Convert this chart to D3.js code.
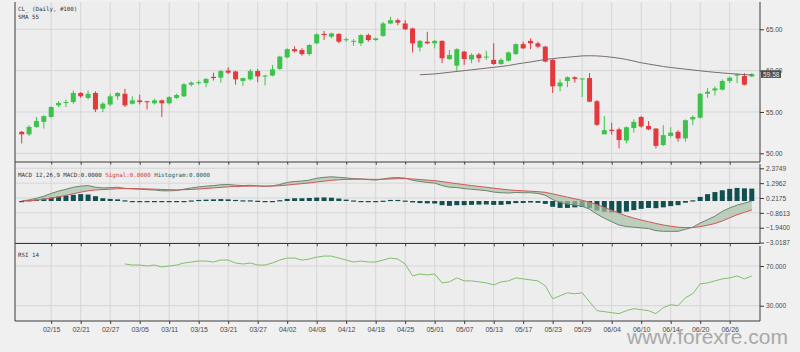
<!DOCTYPE html>
<html>
<head>
<meta charset="utf-8">
<script src="https://cdn.jsdelivr.net/npm/d3@7"></script>
<style>
  body { margin: 0; background: #f0f0f0; }
  svg { display: block; font-family: "Liberation Sans", Arial, sans-serif; }
</style>
</head>
<body>
<svg id="chart"></svg>
<script>
const dates = ["02/11","02/12","02/13","02/14","02/15","02/18","02/19","02/20","02/21","02/22",
  "02/25","02/26","02/27","02/28","03/01","03/04","03/05","03/06","03/07","03/08",
  "03/11","03/12","03/13","03/14","03/15","03/18","03/19","03/20","03/21","03/22",
  "03/25","03/26","03/27","03/28","03/29","04/01","04/02","04/03","04/04","04/05",
  "04/08","04/09","04/10","04/11","04/12","04/15","04/16","04/17","04/18","04/22",
  "04/23","04/24","04/25","04/26","04/29","04/30","05/01","05/02","05/03","05/06",
  "05/07","05/08","05/09","05/10","05/13","05/14","05/15","05/16","05/17","05/20",
  "05/21","05/22","05/23","05/24","05/27","05/28","05/29","05/30","05/31","06/03",
  "06/04","06/05","06/06","06/07","06/10","06/11","06/12","06/13","06/14","06/17",
  "06/18","06/19","06/20","06/21","06/24","06/25","06/26","06/27","06/28","07/01"];

const opens = [52.6,52.3,53.2,53.8,54.4,55.8,56.1,56.2,57.3,56.7,
  57.3,55.4,55.9,56.9,57.2,56.0,56.4,56.3,56.05,56.4,
  56.05,56.7,56.9,58.3,58.5,58.5,59.25,59.15,60.0,59.9,
  58.75,58.95,59.95,59.3,59.4,60.2,61.6,62.6,62.5,62.0,
  63.3,64.45,64.1,64.45,63.7,63.5,63.3,64.3,63.7,64.2,
  65.7,66.1,65.7,65.1,62.8,63.5,63.3,63.6,61.4,60.6,
  62.3,61.35,61.95,61.6,61.3,60.8,61.2,62.0,63.2,63.6,
  63.3,62.9,61.3,58.1,58.75,59.2,58.95,59.1,56.3,52.3,
  52.85,52.9,51.55,53.05,54.4,53.3,53.0,51.0,52.1,52.6,
  51.8,54.1,54.3,57.2,57.6,57.7,58.75,59.4,59.35,59.3];
const highs = [52.7,53.4,54.4,54.6,55.7,56.3,56.5,57.6,57.4,57.6,
  57.5,56.2,57.2,57.4,57.8,56.9,57.1,56.35,56.6,56.5,
  56.9,57.2,58.5,58.7,58.8,59.1,59.75,60.1,60.4,60.0,
  59.15,60.2,60.2,59.5,60.7,61.8,62.7,62.95,62.7,63.2,
  64.5,64.8,64.6,64.5,64.0,63.8,64.4,64.5,64.0,65.9,
  66.5,66.3,66.1,65.2,63.7,64.7,63.7,63.65,62.5,62.7,
  62.4,62.1,62.15,62.4,63.3,61.5,62.3,63.3,63.5,63.9,
  63.5,63.0,61.4,58.95,59.3,59.3,59.1,59.7,56.45,54.5,
  53.7,53.1,53.25,54.1,54.5,53.9,53.0,53.4,53.15,52.8,
  54.1,54.6,57.3,57.9,58.1,58.95,59.3,59.7,59.7,59.7];
const lows = [51.2,52.1,53.1,53.0,54.3,55.6,55.6,56.0,56.7,56.5,
  55.0,55.0,55.7,56.5,55.6,55.9,55.9,55.3,55.9,54.4,
  55.9,56.6,56.8,58.1,58.3,58.0,58.8,58.55,59.6,58.3,
  58.15,58.8,58.6,58.2,59.3,60.1,61.5,62.2,61.8,61.8,
  63.2,63.7,63.9,63.3,63.5,63.0,63.0,63.5,63.6,64.1,
  65.6,65.5,64.9,62.2,62.3,63.2,62.7,60.9,61.3,59.9,
  60.7,60.9,61.0,61.3,60.7,60.7,61.1,61.9,62.6,62.6,
  62.7,61.0,57.3,57.5,58.0,58.55,56.8,56.2,53.3,52.3,
  52.25,50.6,51.2,52.5,53.1,52.8,50.6,50.9,51.9,51.4,
  51.4,53.4,54.2,56.7,57.0,57.6,58.5,58.5,58.2,59.2];
const closes = [52.3,53.2,53.9,54.5,55.6,56.1,56.2,57.3,56.9,57.2,
  55.3,56.0,56.9,57.3,55.8,56.4,56.2,56.2,56.4,56.05,
  56.8,57.05,58.35,58.55,58.6,59.0,59.1,59.95,59.75,58.95,
  59.1,59.95,59.3,59.4,60.15,61.7,62.6,62.35,62.0,63.1,
  64.4,64.3,64.5,63.5,63.8,63.6,64.3,63.7,63.9,65.7,
  66.1,65.8,65.0,63.3,63.6,63.3,63.6,61.5,61.9,62.6,
  61.4,61.9,61.5,61.7,60.8,61.3,62.2,63.2,62.7,63.3,
  62.9,61.1,58.1,58.55,59.2,59.0,59.05,56.25,53.45,52.8,
  52.7,51.6,53.15,53.8,53.25,52.9,50.9,52.2,52.5,51.8,
  54.0,54.4,57.2,57.45,57.85,58.75,59.15,59.55,58.3,59.58];

// SMA 55, first value at candle 54
const smaStart = 54;
const sma55 = [59.5,59.55,59.6,59.7,59.8,59.9,60.0,60.1,60.2,60.3,
  60.4,60.5,60.62,60.78,60.92,61.05,61.2,61.35,61.45,61.55,
  61.62,61.7,61.78,61.8,61.78,61.72,61.62,61.5,61.35,61.15,
  60.95,60.8,60.65,60.5,60.38,60.28,60.18,60.08,59.98,59.88,
  59.8,59.72,59.65,59.58,59.52,59.47];

const macd = [0,0.08,0.2,0.35,0.55,0.72,0.85,1.0,1.08,1.12,
  1.0,0.95,0.97,1.0,0.92,0.88,0.86,0.82,0.8,0.74,
  0.74,0.76,0.86,0.95,1.02,1.08,1.12,1.18,1.2,1.15,
  1.12,1.14,1.1,1.06,1.1,1.2,1.35,1.42,1.45,1.52,
  1.65,1.72,1.76,1.72,1.68,1.62,1.6,1.55,1.52,1.6,
  1.68,1.7,1.66,1.5,1.42,1.35,1.3,1.12,1.0,0.98,
  0.9,0.85,0.8,0.75,0.65,0.6,0.58,0.62,0.6,0.6,
  0.55,0.42,0.1,-0.1,-0.22,-0.3,-0.38,-0.6,-0.95,-1.25,
  -1.5,-1.75,-1.85,-1.9,-1.95,-2.0,-2.15,-2.2,-2.2,-2.2,
  -2.05,-1.9,-1.6,-1.35,-1.1,-0.75,-0.5,-0.3,-0.15,0.0];
const signal = [0,0.02,0.06,0.12,0.2,0.3,0.41,0.53,0.64,0.74,
  0.8,0.83,0.86,0.89,0.9,0.9,0.89,0.88,0.86,0.84,
  0.82,0.81,0.82,0.84,0.87,0.91,0.95,0.99,1.03,1.06,
  1.07,1.08,1.09,1.09,1.09,1.11,1.16,1.21,1.26,1.31,
  1.38,1.44,1.5,1.54,1.57,1.58,1.59,1.58,1.57,1.58,
  1.6,1.62,1.63,1.6,1.56,1.52,1.48,1.41,1.33,1.26,
  1.19,1.12,1.06,1.0,0.93,0.87,0.81,0.77,0.74,0.71,
  0.68,0.63,0.52,0.4,0.28,0.16,0.05,-0.08,-0.26,-0.46,
  -0.67,-0.88,-1.08,-1.24,-1.38,-1.5,-1.63,-1.74,-1.83,-1.9,
  -1.93,-1.93,-1.86,-1.76,-1.63,-1.45,-1.22,-1.0,-0.82,-0.65];
const histogram = [0,0.06,0.14,0.23,0.3,0.36,0.4,0.45,0.5,0.47,
  0.35,0.2,0.15,0.12,0.05,-0.02,-0.04,-0.06,-0.06,-0.08,
  -0.08,-0.06,0.0,0.04,0.08,0.1,0.12,0.14,0.12,0.08,
  0.05,0.05,0.02,-0.03,0.0,0.06,0.15,0.2,0.2,0.22,
  0.25,0.26,0.24,0.18,0.1,0.04,0.0,-0.03,-0.05,0.02,
  0.08,0.08,0.03,-0.1,-0.15,-0.17,-0.18,-0.3,-0.35,-0.3,
  -0.3,-0.28,-0.26,-0.25,-0.28,-0.28,-0.23,-0.15,-0.14,-0.11,
  -0.13,-0.21,-0.42,-0.5,-0.5,-0.46,-0.43,-0.52,-0.69,-0.79,
  -0.83,-0.87,-0.77,-0.66,-0.57,-0.5,-0.52,-0.46,-0.37,-0.3,
  -0.12,0.05,0.3,0.5,0.65,0.78,0.88,0.95,0.92,0.9];

// RSI 14, first value at candle 14
const rsiStart = 14;
const rsi = [72,71,71,70,71,69,70,71,73,74,
  75,75,74,76,76,73,72,73,71,71,
  73,76,78,78,76,77,79,80,80,78,
  76,74,75,74,74,76,78,77,72,60,
  62,61,62,53,54,58,55,55,54,53,
  51,54,55,58,57,56,55,50,37,40,
  43,42,43,34,25,24,23,22,25,27,
  26,25,22,28,31,30,38,42,52,53,
  55,57,58,60,57,60];

const tickLabels = ["02/15","02/21","02/27","03/05","03/11","03/15","03/21","03/27","04/02","04/08",
  "04/12","04/18","04/25","05/01","05/07","05/13","05/17","05/23","05/29","06/04",
  "06/10","06/14","06/20","06/26"];
const priceTicks = [65, 60, 55, 50];
const macdTicks = [2.3749, 1.2962, 0.2175, -0.8613, -1.9400, -3.0187];
const rsiTicks = [70, 30];
const lastPrice = 59.58;

const width = 800;
const height = 352;
const left = 15;
const right = 760;
const gridColor = "#d6d6d6";
const axisColor = "#3a3a3a";
const up = "#3dc34c";
const down = "#e5383c";

const svg = d3.select("#chart")
  .attr("width", width)
  .attr("height", height);

const x = d3.scalePoint().domain(dates).range([21.7, 751.8]);

const pricePanel = { top: 2, bottom: 162 };
const macdPanel = { top: 164, bottom: 243.5 };
const rsiPanel = { top: 246, bottom: 321 };

const yPrice = d3.scaleLinear().domain([48.95, 68.3]).range([pricePanel.bottom, pricePanel.top]);
const yMacd = d3.scaleLinear().domain([-3.0187, 2.3749]).range([242.6, 168.3]);
const yRsi = d3.scaleLinear().domain([30, 70]).range([305.7, 266]);

svg.append("rect").attr("x", left).attr("y", pricePanel.top)
  .attr("width", right - left).attr("height", rsiPanel.bottom - pricePanel.top)
  .attr("fill", "#ededed");

function frame(panel, yScale, ticks, fmt, showLabels) {
  const g = svg.append("g");

  g.selectAll(".vgrid")
    .data(tickLabels)
    .enter().append("line")
    .attr("x1", d => x(d)).attr("x2", d => x(d))
    .attr("y1", panel.top).attr("y2", panel.bottom)
    .attr("stroke", gridColor);

  g.selectAll(".hgrid")
    .data(ticks)
    .enter().append("line")
    .attr("x1", left).attr("x2", right)
    .attr("y1", d => yScale(d)).attr("y2", d => yScale(d))
    .attr("stroke", gridColor);

  const yAxis = g.append("g")
    .attr("transform", `translate(${right},0)`)
    .call(d3.axisRight(yScale).tickValues(ticks).tickFormat(fmt).tickSize(4).tickPadding(2));
  yAxis.select(".domain").remove();
  yAxis.selectAll("line").attr("stroke", axisColor);
  yAxis.selectAll("text").attr("fill", "#4a4a4a").style("font-size", "6.6px");

  g.append("line")
    .attr("x1", right).attr("x2", right)
    .attr("y1", panel.top).attr("y2", panel.bottom)
    .attr("stroke", axisColor);

  const xAxis = g.append("g")
    .attr("transform", `translate(0,${panel.bottom})`)
    .call(d3.axisBottom(x).tickValues(tickLabels).tickSize(3).tickPadding(3)
      .tickFormat(d => showLabels ? d : ""));
  xAxis.select(".domain").remove();
  xAxis.selectAll("line").attr("stroke", axisColor);
  xAxis.selectAll("text").attr("fill", "#4a4a4a").style("font-size", "7px");

  g.append("line")
    .attr("x1", left).attr("x2", right)
    .attr("y1", panel.bottom).attr("y2", panel.bottom)
    .attr("stroke", axisColor);
}

frame(pricePanel, yPrice, priceTicks, d3.format(".2f"), false);
frame(macdPanel, yMacd, macdTicks, d3.format(".4f"), false);
frame(rsiPanel, yRsi, rsiTicks, d3.format(".3f"), true);

// left border
svg.append("line")
  .attr("x1", left).attr("x2", left)
  .attr("y1", pricePanel.top).attr("y2", rsiPanel.bottom)
  .attr("stroke", axisColor);

// Candles
const candles = dates.map((d, i) => ({ date: d, o: opens[i], h: highs[i], l: lows[i], c: closes[i] }));

const candle = svg.append("g").selectAll("g")
  .data(candles)
  .enter().append("g");

candle.append("line")
  .attr("x1", d => x(d.date)).attr("x2", d => x(d.date))
  .attr("y1", d => yPrice(d.h)).attr("y2", d => yPrice(d.l))
  .attr("stroke", d => d.c >= d.o ? up : down);

candle.append("rect")
  .attr("x", d => x(d.date) - 2.5)
  .attr("width", 5)
  .attr("y", d => yPrice(Math.max(d.o, d.c)))
  .attr("height", d => Math.max(1, Math.abs(yPrice(d.o) - yPrice(d.c))))
  .attr("fill", d => d.c >= d.o ? up : down);

// SMA 55
svg.append("path")
  .datum(sma55)
  .attr("fill", "none")
  .attr("stroke", "#7b6a6c")
  .attr("stroke-width", 1)
  .attr("d", d3.line().x((d, i) => x(dates[i + smaStart])).y(d => yPrice(d)));

// last price label
svg.append("rect")
  .attr("x", right + 1).attr("y", yPrice(lastPrice) - 3.8)
  .attr("width", 20).attr("height", 7.6)
  .attr("fill", "#4d4d4d");
svg.append("text")
  .attr("x", right + 3).attr("y", yPrice(lastPrice) + 2.4)
  .attr("fill", "#e6e6e6")
  .style("font-size", "6.6px")
  .text(d3.format(".2f")(lastPrice));

// MACD
const macdData = dates.map((d, i) => ({ date: d, m: macd[i], s: signal[i], h: histogram[i] }));

svg.append("g").selectAll("rect")
  .data(macdData)
  .enter().append("rect")
  .attr("x", d => x(d.date) - 2.5)
  .attr("width", 5)
  .attr("y", d => Math.min(yMacd(0), yMacd(d.h)))
  .attr("height", d => Math.max(1.2, Math.abs(yMacd(d.h) - yMacd(0))))
  .attr("fill", "#134f50");

svg.append("path")
  .datum(macdData)
  .attr("fill", "#a8c2a6")
  .attr("fill-opacity", 0.7)
  .attr("d", d3.area().x(d => x(d.date)).y0(d => yMacd(d.s)).y1(d => yMacd(d.m)));

svg.append("path")
  .datum(macdData)
  .attr("fill", "none")
  .attr("stroke", "#6d846c")
  .attr("d", d3.line().x(d => x(d.date)).y(d => yMacd(d.m)));

svg.append("path")
  .datum(macdData)
  .attr("fill", "none")
  .attr("stroke", "#cf5858")
  .attr("d", d3.line().x(d => x(d.date)).y(d => yMacd(d.s)));

// RSI
svg.append("path")
  .datum(rsi)
  .attr("fill", "none")
  .attr("stroke", "#80bf6c")
  .attr("d", d3.line().x((d, i) => x(dates[i + rsiStart])).y(d => yRsi(d)));

// panel titles
const mono = "'DejaVu Sans Mono', monospace";
svg.append("text").attr("x", 18).attr("y", 10.5)
  .style("font-family", mono).style("font-size", "5.8px").attr("fill", "#333")
  .text("CL_ (Daily, #100)");
svg.append("text").attr("x", 18).attr("y", 19)
  .style("font-family", mono).style("font-size", "5.8px").attr("fill", "#333")
  .text("SMA 55");

const macdTitle = svg.append("text").attr("x", 18).attr("y", 176.5)
  .style("font-family", mono).style("font-size", "5.8px");
macdTitle.append("tspan").attr("fill", "#333").text("MACD 12,26,9 MACD:0.0000 ");
macdTitle.append("tspan").attr("fill", "#d04040").text("Signal:0.0000 ");
macdTitle.append("tspan").attr("fill", "#1f5a5a").text("Histogram:0.0000");

svg.append("text").attr("x", 18).attr("y", 256.5)
  .style("font-family", mono).style("font-size", "5.8px").attr("fill", "#333")
  .text("RSI 14");

// watermark
svg.append("text")
  .attr("x", 627).attr("y", 344)
  .style("font-size", "21px")
  .attr("fill", "#a9a9a9")
  .text("www.forexre.com");
</script>
</body>
</html>
